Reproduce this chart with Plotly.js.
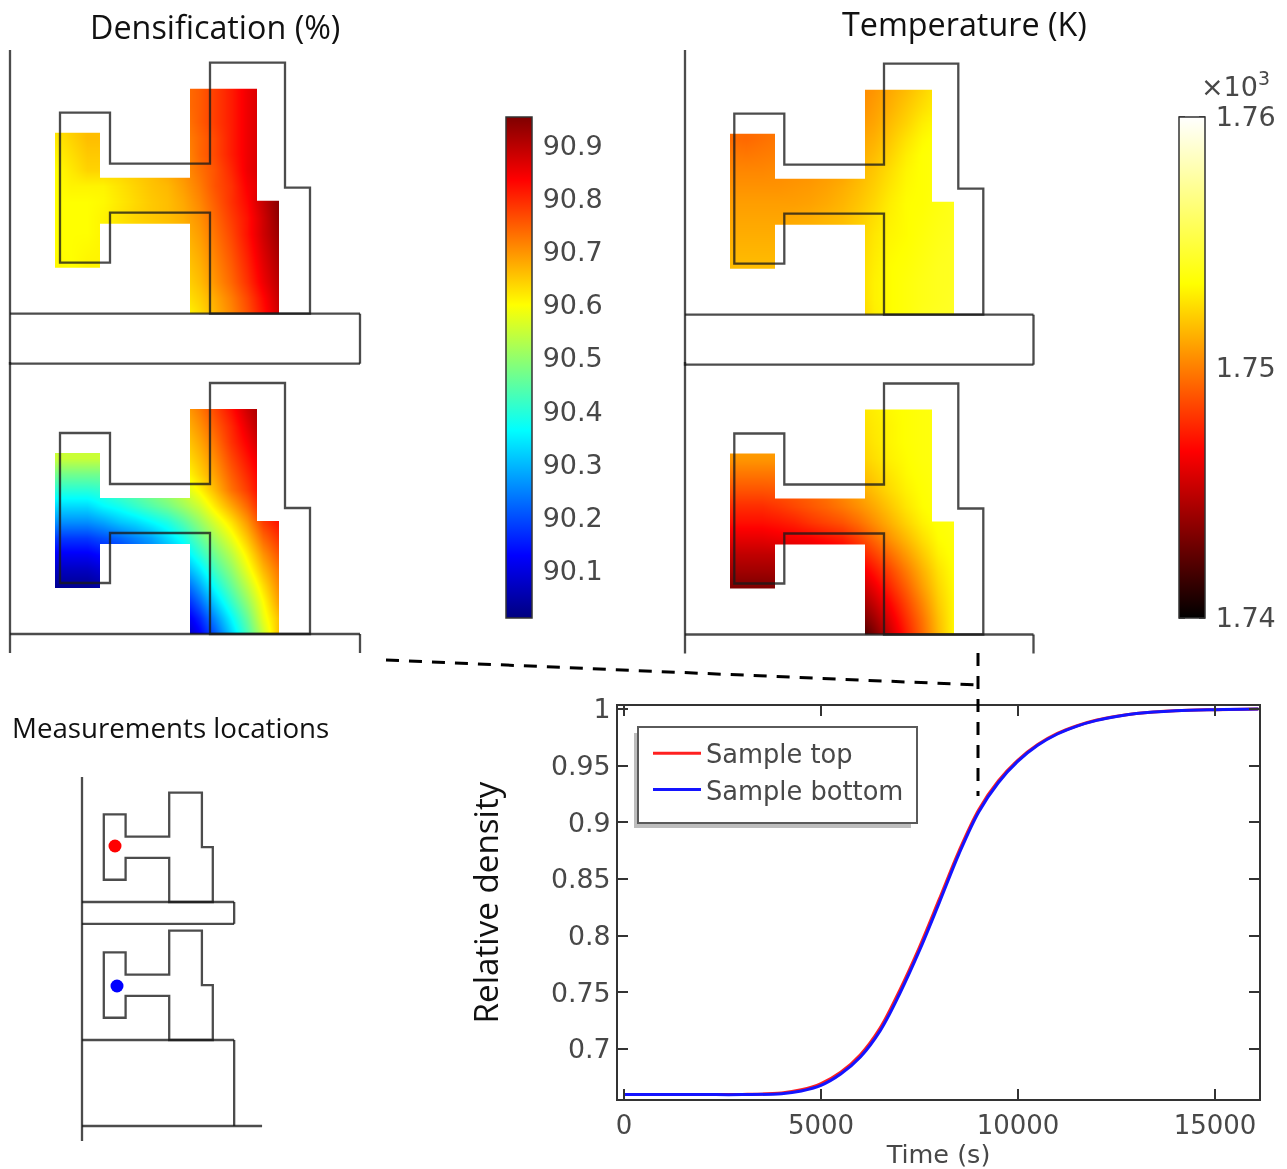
<!DOCTYPE html>
<html>
<head>
<meta charset="utf-8">
<script src="https://cdn.plot.ly/plotly-3.0.1.min.js"></script>
<style>html,body{margin:0;padding:0;background:#fff}#plot{width:1287px;height:1169px;filter:blur(0.4px)}</style>
</head>
<body>
<div id="plot"></div>
<script>
// ---------- curve data ----------
const timeS = [0,1000,2000,3000,4000,4500,5000,5500,6000,6500,7000,7500,8000,8500,9000,9500,10000,10500,11000,11500,12000,12500,13000,14000,15000,16100];
const densityTop = [0.6598,0.6598,0.6598,0.6599,0.6612,0.6640,0.6695,0.6795,0.6950,0.7185,0.7520,0.7900,0.8320,0.8745,0.9110,0.9365,0.9550,0.9687,0.9785,0.9853,0.9903,0.9937,0.9961,0.9986,0.9995,1.0];
const densityBottom = [0.6598,0.6598,0.6598,0.6598,0.6606,0.6630,0.6680,0.6780,0.6930,0.7160,0.7490,0.7870,0.8290,0.8720,0.9090,0.9350,0.9540,0.9680,0.9780,0.9850,0.9900,0.9935,0.9960,0.9985,0.9995,1.0];
const curveNames = ['Sample top','Sample bottom'];
const xTicks = [0,5000,10000,15000];
const yTicks = [0.7,0.75,0.8,0.85,0.9,0.95,1];
const yTickText = ['0.7','0.75','0.8','0.85','0.9','0.95','1'];

// ---------- colour scale ticks ----------
const densTicks = [90.1,90.2,90.3,90.4,90.5,90.6,90.7,90.8,90.9];
const densRange = [90.011,90.953];
const tempTicks = [1740,1750,1760];
const tempTickText = ['1.74','1.75','1.76'];
const tempRange = [1740,1760];

// ---------- field grid (rows listed from top to bottom) ----------
const gridX = [45,61,77,93,109,125,141,157,173,189,205,221,237,253,269];
const gridY = [224,208,192,176,160,144,128,112,96,80,64,48,32,16,0];

const densFieldTopRows = [
[90.64,90.65,90.66,90.66,90.66,90.67,90.68,90.70,90.73,90.75,90.78,90.81,90.85,90.88,90.92],
[90.64,90.65,90.66,90.66,90.66,90.67,90.68,90.70,90.73,90.75,90.78,90.81,90.85,90.88,90.92],
[90.63,90.65,90.66,90.66,90.66,90.67,90.68,90.70,90.72,90.75,90.78,90.81,90.85,90.88,90.91],
[90.62,90.64,90.66,90.66,90.66,90.66,90.67,90.69,90.71,90.74,90.77,90.81,90.85,90.88,90.90],
[90.61,90.63,90.65,90.65,90.65,90.66,90.67,90.68,90.70,90.74,90.77,90.81,90.85,90.88,90.90],
[90.60,90.62,90.64,90.64,90.64,90.65,90.66,90.68,90.70,90.73,90.76,90.80,90.85,90.88,90.90],
[90.60,90.61,90.61,90.61,90.625,90.64,90.655,90.665,90.69,90.72,90.76,90.79,90.84,90.87,90.90],
[90.60,90.60,90.60,90.605,90.62,90.635,90.65,90.66,90.68,90.71,90.75,90.79,90.83,90.89,90.945],
[90.60,90.60,90.60,90.61,90.625,90.64,90.65,90.66,90.675,90.70,90.74,90.78,90.82,90.88,90.94],
[90.60,90.60,90.60,90.61,90.62,90.63,90.64,90.65,90.665,90.69,90.73,90.77,90.82,90.88,90.93],
[90.60,90.60,90.605,90.61,90.62,90.63,90.64,90.645,90.655,90.68,90.72,90.76,90.81,90.87,90.92],
[90.605,90.60,90.61,90.61,90.62,90.63,90.635,90.64,90.645,90.67,90.71,90.75,90.80,90.86,90.91],
[90.61,90.61,90.61,90.61,90.62,90.62,90.63,90.63,90.635,90.66,90.70,90.74,90.79,90.85,90.90],
[90.61,90.61,90.61,90.61,90.61,90.61,90.62,90.62,90.62,90.645,90.68,90.72,90.77,90.83,90.89],
[90.61,90.61,90.61,90.61,90.61,90.61,90.60,90.60,90.60,90.63,90.67,90.71,90.76,90.82,90.88]];

const densFieldBottomRows = [
[90.55,90.55,90.55,90.55,90.56,90.58,90.60,90.63,90.68,90.72,90.77,90.82,90.88,90.93,90.95],
[90.55,90.55,90.55,90.55,90.56,90.58,90.60,90.62,90.66,90.70,90.75,90.80,90.86,90.92,90.94],
[90.55,90.55,90.55,90.55,90.56,90.57,90.59,90.61,90.64,90.68,90.73,90.79,90.84,90.90,90.93],
[90.55,90.55,90.55,90.55,90.55,90.56,90.58,90.60,90.62,90.66,90.71,90.77,90.82,90.87,90.90],
[90.47,90.47,90.47,90.47,90.48,90.50,90.52,90.55,90.59,90.64,90.69,90.75,90.80,90.85,90.88],
[90.40,90.40,90.40,90.41,90.44,90.46,90.49,90.52,90.555,90.605,90.665,90.73,90.78,90.84,90.87],
[90.33,90.33,90.33,90.36,90.38,90.41,90.44,90.47,90.51,90.555,90.62,90.68,90.74,90.815,90.85],
[90.26,90.26,90.26,90.28,90.31,90.33,90.36,90.39,90.44,90.50,90.565,90.625,90.695,90.78,90.82],
[90.18,90.18,90.18,90.20,90.22,90.25,90.28,90.33,90.38,90.45,90.515,90.58,90.655,90.74,90.79],
[90.12,90.12,90.12,90.14,90.16,90.20,90.24,90.28,90.33,90.40,90.47,90.535,90.615,90.70,90.76],
[90.07,90.07,90.07,90.09,90.12,90.15,90.19,90.23,90.27,90.34,90.425,90.495,90.58,90.665,90.73],
[90.03,90.03,90.03,90.05,90.08,90.11,90.14,90.17,90.20,90.28,90.375,90.455,90.54,90.63,90.71],
[90.02,90.02,90.02,90.03,90.05,90.07,90.09,90.11,90.14,90.22,90.32,90.41,90.50,90.60,90.69],
[90.02,90.02,90.02,90.02,90.03,90.04,90.05,90.07,90.09,90.16,90.26,90.36,90.46,90.58,90.66],
[90.02,90.02,90.02,90.02,90.02,90.02,90.03,90.04,90.05,90.12,90.21,90.32,90.43,90.55,90.66]];

const tempFieldTopRows = [
[1749.5,1749.5,1749.6,1749.7,1749.8,1749.9,1750,1750.1,1750.2,1750.6,1751.1,1751.6,1752.2,1752.8,1753],
[1749.5,1749.5,1749.6,1749.7,1749.8,1749.9,1750,1750.1,1750.3,1750.8,1751.3,1751.9,1752.5,1753,1753.2],
[1749.5,1749.5,1749.6,1749.7,1749.8,1749.9,1750,1750.3,1750.6,1751,1751.6,1752.2,1752.9,1753.3,1753.4],
[1749.5,1749.4,1749.6,1749.8,1750,1750.2,1750.4,1750.6,1750.9,1751.3,1751.9,1752.6,1753.2,1753.5,1753.6],
[1749.9,1749.8,1749.9,1750,1750.2,1750.4,1750.6,1750.8,1751.1,1751.6,1752.2,1752.9,1753.4,1753.6,1753.7],
[1750.2,1750.2,1750.2,1750.3,1750.4,1750.5,1750.7,1750.9,1751.4,1751.9,1752.5,1753.1,1753.4,1753.6,1753.8],
[1750.5,1750.5,1750.5,1750.5,1750.6,1750.7,1750.9,1751.2,1751.6,1752.1,1752.7,1753.2,1753.4,1753.6,1753.8],
[1750.8,1750.8,1750.8,1750.8,1750.8,1750.9,1751.1,1751.4,1751.8,1752.3,1752.9,1753.3,1753.4,1753.7,1754],
[1751,1751,1751,1751,1751.1,1751.2,1751.4,1751.6,1752,1752.5,1753,1753.3,1753.5,1753.8,1754],
[1751.2,1751.2,1751.2,1751.2,1751.3,1751.4,1751.5,1751.7,1752.1,1752.7,1753.1,1753.3,1753.6,1753.9,1754.1],
[1751.4,1751.4,1751.4,1751.4,1751.5,1751.5,1751.6,1751.8,1752.2,1752.8,1753.2,1753.4,1753.7,1754,1754.2],
[1751.6,1751.6,1751.6,1751.6,1751.6,1751.7,1751.8,1751.9,1752.3,1752.9,1753.3,1753.5,1753.8,1754.1,1754.2],
[1751.7,1751.7,1751.7,1751.7,1751.7,1751.8,1751.9,1752,1752.3,1753,1753.3,1753.6,1753.9,1754.1,1754.2],
[1751.8,1751.8,1751.8,1751.8,1751.8,1751.9,1751.9,1752,1752.2,1753,1753.3,1753.6,1753.9,1754.1,1754.3],
[1751.8,1751.8,1751.8,1751.8,1751.8,1751.9,1751.9,1751.9,1752,1752.9,1753.3,1753.6,1754,1754.2,1754.3]];

const tempFieldBottomRows = [
[1751,1751,1751,1751,1751.2,1751.4,1751.7,1752.1,1752.6,1752.9,1753.2,1753.4,1753.6,1753.7,1753.7],
[1751,1751,1751,1751,1751.2,1751.4,1751.7,1752,1752.4,1752.8,1753.1,1753.4,1753.6,1753.7,1753.7],
[1751,1751,1751,1751,1751.1,1751.3,1751.6,1751.9,1752.2,1752.7,1753.1,1753.4,1753.6,1753.7,1753.8],
[1750.6,1750.6,1750.6,1750.6,1750.8,1751,1751.2,1751.6,1752,1752.5,1753,1753.3,1753.6,1753.7,1753.8],
[1749.7,1749.7,1749.7,1749.7,1749.8,1750,1750.3,1750.8,1751.5,1752.1,1752.7,1753.2,1753.5,1753.7,1753.8],
[1748.8,1748.8,1748.8,1748.9,1749.1,1749.4,1749.8,1750.4,1751,1751.7,1752.4,1753,1753.4,1753.7,1753.8],
[1747.8,1747.8,1747.8,1748.1,1748.5,1748.9,1749.3,1749.8,1750.4,1751.1,1751.9,1752.7,1753.3,1753.6,1753.8],
[1747,1747,1747,1747.2,1747.5,1748,1748.4,1748.8,1749.5,1750.4,1751.3,1752.2,1753,1753.5,1753.7],
[1746,1746,1746,1746.2,1746.4,1746.6,1747,1747.4,1748.3,1749.4,1750.5,1751.5,1752.5,1753.3,1753.6],
[1745,1745,1745,1745,1745.2,1745.5,1745.8,1746.2,1747.2,1748.3,1749.5,1750.7,1751.9,1753,1753.5],
[1744.2,1744.2,1744.2,1744.2,1744.4,1744.6,1744.9,1745.3,1746,1747.2,1748.5,1749.9,1751.3,1752.6,1753.4],
[1743.3,1743.3,1743.3,1743.4,1743.6,1743.8,1744,1744.4,1744.9,1746.2,1747.7,1749.2,1750.8,1752.3,1753.3],
[1743,1743,1743,1743,1743.1,1743.2,1743.3,1743.5,1743.8,1745.2,1746.8,1748.5,1750.2,1752,1753.2],
[1743,1743,1743,1743,1743,1743,1742.9,1742.8,1742.7,1744.2,1746,1747.9,1749.7,1751.7,1753.2],
[1743,1743,1743,1743,1743,1742.8,1742.4,1741.9,1741.3,1743.2,1745.3,1747.4,1749.4,1751.5,1753.2]];

// ---------- geometry in panel units ----------
const moldXLeft = [50,100,100,200,200,275,275,300,300,200,200,100,100,50];
const moldXRight = [49.3,99.3,99.3,199,199,273.3,273.3,298.3,298.3,199,199,99.3,99.3,49.3];
const moldY = [201,201,150,150,251,251,126,126,0,0,101,101,51,51];
const sampleX = [45,90,90,180,180,247,247,269,269,180,180,90,90,45];
const sampleY = [181,181,136,136,225,225,113,113,0,0,90,90,46,46];
const plateWidthLeft = 350;
const plateWidthRight = 348.5;
const plateWidthMini = 349;
const plateThick = 50;

// ---------- measurement locations sketch ----------
const miniScale = 0.436;
const probeX = [75.7,80.3];
const probeY = [128.4,-192.7];
const probeColor = ['#ff0000','#0000ff'];
const miniSecondOffset = -316.5;

// ---------- text ----------
const headlines = [
  {text:'Densification (%)',x:215,y:26.5,size:32.3},
  {text:'Temperature (K)',x:964.5,y:23,size:32.3},
  {text:'Measurements locations',x:170.5,y:727,size:27.7}
];

// ---------- helpers ----------
const W = 1287, H = 1169;
const fx = p => p / W, fy = p => 1 - p / H;
const MOLD = {color:'rgba(25,25,25,0.78)', width:2.3};
const tickFont = {family:'DejaVu Sans', size:26, color:'#484848'};
const barFont = {family:'DejaVu Sans', size:27, color:'#484848'};
const titleFont = {family:'Open Sans', color:'#111'};

const jet = [[0,'#00007f'],[0.125,'#0000ff'],[0.375,'#00ffff'],[0.5,'#7fff7f'],[0.625,'#ffff00'],[0.875,'#ff0000'],[1,'#7f0000']];
const heat = [[0,'#000000'],[0.333,'#ff0000'],[0.667,'#ffff00'],[1,'#ffffff']];

function polyPath(xs, ys) {
  return 'M' + xs.map((x, i) => x + ',' + ys[i]).join('L') + 'Z';
}
function lineShape(xr, yr, x0, y0, x1, y1) {
  return {type:'line', xref:xr, yref:yr, x0, y0, x1, y1, line:MOLD, layer:'above'};
}
function offsetY(ys, d) { return ys.map(v => v + d); }

const barTop = 117, barBottom = 618;
function barConfig(left, ticks, labels) {
  return {x:fx(left), xanchor:'left', y:fy(barBottom), yanchor:'bottom', len:(barBottom-barTop)/H, lenmode:'fraction',
    thickness:26, thicknessmode:'pixels', xpad:0, ypad:0, tickvals:ticks, ticktext:labels,
    ticks:'outside', ticklen:5, tickcolor:'rgba(0,0,0,0)', tickfont:barFont, outlinecolor:'#333', outlinewidth:1.5, borderwidth:0};
}

const layout = {
  width:W, height:H, margin:{l:0,r:0,t:0,b:0,autoexpand:false},
  paper_bgcolor:'#fff', plot_bgcolor:'rgba(0,0,0,0)',
  showlegend:true,
  legend:{x:fx(648), y:fy(730), xanchor:'left', yanchor:'top', bgcolor:'rgba(0,0,0,0)', borderwidth:0,
          font:{family:'DejaVu Sans', size:25.7, color:'#484848'}, itemwidth:48, tracegroupgap:16, traceorder:'normal'},
  xaxis:{domain:[fx(618),fx(1259)], range:[-152,16117], anchor:'y', tickvals:xTicks, ticktext:xTicks.map(String),
         ticks:'inside', ticklen:10, tickwidth:1.5, tickcolor:'#333', showline:true, linecolor:'#333', linewidth:2, mirror:'allticks',
         showgrid:false, zeroline:false, tickfont:tickFont, ticklabelstandoff:2,
         title:{text:'Time (s)', font:{family:'DejaVu Sans', size:25.5, color:'#484848'}, standoff:4}},
  yaxis:{domain:[fy(1099),fy(706)], range:[0.6559,1.0027], anchor:'x', tickvals:yTicks, ticktext:yTickText,
         ticks:'inside', ticklen:10, tickwidth:1.5, tickcolor:'#333', showline:true, linecolor:'#333', linewidth:2, mirror:'allticks',
         showgrid:false, zeroline:false, tickfont:{family:'DejaVu Sans', size:26.8, color:'#484848'},
         title:{text:'Relative density', font:{family:'Open Sans', size:33.2, color:'#111'}, standoff:42}},
  coloraxis:{cmin:densRange[0], cmax:densRange[1], colorscale:jet, showscale:true, colorbar:barConfig(506, densTicks, densTicks.map(v=>v.toFixed(1)))},
  coloraxis2:{cmin:tempRange[0], cmax:tempRange[1], colorscale:heat, showscale:true, colorbar:barConfig(1179, tempTicks, tempTickText)},
  shapes:[], annotations:[]
};

const traces = [];

// four field panels
const panels = [
  {id:2, ox:10,  base:313.7, top:50,  bottom:367, rows:densFieldTopRows,    ca:'coloraxis',  full:true,  mold:moldXLeft,  plate:plateWidthLeft},
  {id:3, ox:10,  base:634,   top:362, bottom:656, rows:densFieldBottomRows, ca:'coloraxis',  full:false, mold:moldXLeft,  plate:plateWidthLeft},
  {id:4, ox:685, base:314.7, top:50,  bottom:367, rows:tempFieldTopRows,    ca:'coloraxis2', full:true,  mold:moldXRight, plate:plateWidthRight},
  {id:5, ox:685, base:634.5, top:362, bottom:656, rows:tempFieldBottomRows, ca:'coloraxis2', full:false, mold:moldXRight, plate:plateWidthRight}
];
panels.forEach(p => {
  const xr = 'x' + p.id, yr = 'y' + p.id;
  layout['xaxis' + p.id] = {domain:[fx(p.ox-4),fx(p.ox+356)], range:[-4,356], visible:false, anchor:yr, fixedrange:true};
  layout['yaxis' + p.id] = {domain:[fy(p.bottom),fy(p.top)], range:[p.base-p.bottom,p.base-p.top], visible:false, anchor:xr, fixedrange:true};
  traces.push({type:'heatmap', x:gridX, y:gridY.slice().reverse(), z:p.rows.slice().reverse(), coloraxis:p.ca,
               zsmooth:'best', xaxis:xr, yaxis:yr, hoverinfo:'skip', showlegend:false});
  // white surround that leaves only the sample shape coloured
  layout.shapes.push({type:'path', xref:xr, yref:yr, layer:'above', fillrule:'evenodd', fillcolor:'#fff', line:{width:0},
    path:polyPath([30,285,285,30],[-14,-14,240,240]) + polyPath(sampleX,sampleY)});
  layout.shapes.push({type:'path', xref:xr, yref:yr, layer:'above', line:MOLD, path:polyPath(p.mold,moldY)});
  layout.shapes.push(lineShape(xr,yr,0,p.base-p.top,0,p.full?-plateThick-1:-19));
  layout.shapes.push(lineShape(xr,yr,0,0,p.plate,0));
  layout.shapes.push(lineShape(xr,yr,p.plate,0,p.plate,p.full?-plateThick:-19));
  if (p.full) layout.shapes.push(lineShape(xr,yr,0,-plateThick,p.plate,-plateThick));
});

// small tick marks on both inner edges of the colour bars
function barTicks(left, ticks, range) {
  ticks.forEach(v => {
    const py = barBottom - (v - range[0]) / (range[1] - range[0]) * (barBottom - barTop);
    [[left, left+6], [left+20, left+26]].forEach(seg => layout.shapes.push({type:'line', xref:'paper', yref:'paper', layer:'above',
      x0:fx(seg[0]), x1:fx(seg[1]), y0:fy(py), y1:fy(py), line:{color:'#222', width:1.5}}));
  });
}
barTicks(506, densTicks, densRange);
barTicks(1179, tempTicks, tempRange);

// measurement sketch
const mTop = 773, mBot = 1145, mL = 78, mR = 266, mBase = 902, mOrigin = 82;
layout.xaxis6 = {domain:[fx(mL),fx(mR)], range:[(mL-mOrigin)/miniScale,(mR-mOrigin)/miniScale], visible:false, anchor:'y6', fixedrange:true};
layout.yaxis6 = {domain:[fy(mBot),fy(mTop)], range:[(mBase-mBot)/miniScale,(mBase-mTop)/miniScale], visible:false, anchor:'x6', fixedrange:true};
layout.shapes.push({type:'path', xref:'x6', yref:'y6', layer:'above', line:MOLD, path:polyPath(moldXLeft,moldY)});
layout.shapes.push({type:'path', xref:'x6', yref:'y6', layer:'above', line:MOLD, path:polyPath(moldXLeft,offsetY(moldY,miniSecondOffset))});
layout.shapes.push(lineShape('x6','y6',0,286.7,0,-548));
layout.shapes.push(lineShape('x6','y6',0,0,plateWidthMini,0));
layout.shapes.push(lineShape('x6','y6',plateWidthMini,0,plateWidthMini,-plateThick));
layout.shapes.push(lineShape('x6','y6',0,-plateThick,plateWidthMini,-plateThick));
layout.shapes.push(lineShape('x6','y6',0,miniSecondOffset,plateWidthMini,miniSecondOffset));
layout.shapes.push(lineShape('x6','y6',plateWidthMini,miniSecondOffset,plateWidthMini,-513.8));
layout.shapes.push(lineShape('x6','y6',0,-513.8,413,-513.8));
traces.push({type:'scatter', mode:'markers', x:probeX, y:probeY, xaxis:'x6', yaxis:'y6', hoverinfo:'skip', showlegend:false,
             marker:{size:13, color:probeColor}});

// curves
traces.push({type:'scatter', mode:'lines', name:curveNames[0], x:timeS, y:densityTop, legendgroup:'a', line:{color:'#ff2020', width:3, shape:'spline'}});
traces.push({type:'scatter', mode:'lines', name:curveNames[1], x:timeS, y:densityBottom, legendgroup:'b', line:{color:'#1414ff', width:3, shape:'spline'}});

// legend frame and shadow
layout.shapes.push({type:'rect', xref:'paper', yref:'paper', layer:'above', x0:fx(634), x1:fx(911), y0:fy(828), y1:fy(733), fillcolor:'#bdbdbd', line:{width:0}});
layout.shapes.push({type:'rect', xref:'paper', yref:'paper', layer:'above', x0:fx(638), x1:fx(917), y0:fy(823), y1:fy(727), fillcolor:'#fff', line:{color:'#5a5a5a', width:2}});

// dashed guides
const DASH = {color:'#000', width:3, dash:'13px,10px'};
layout.shapes.push({type:'line', xref:'paper', yref:'paper', layer:'above', x0:fx(386), y0:fy(660), x1:fx(978), y1:fy(685), line:DASH});
layout.shapes.push({type:'line', xref:'paper', yref:'paper', layer:'above', x0:fx(978), y0:fy(653), x1:fx(978), y1:fy(796), line:DASH});

// texts
headlines.forEach(h => layout.annotations.push({xref:'paper', yref:'paper', x:fx(h.x), y:fy(h.y), xanchor:'center', yanchor:'middle',
  showarrow:false, text:h.text, font:{family:titleFont.family, color:titleFont.color, size:h.size}}));
layout.annotations.push({xref:'paper', yref:'paper', x:fx(1199), y:fy(85), xanchor:'left', yanchor:'middle', showarrow:false,
  text:'×10<sup>3</sup>', font:barFont});

Plotly.newPlot('plot', traces, layout, {displayModeBar:false, responsive:false});
</script>
</body>
</html>
